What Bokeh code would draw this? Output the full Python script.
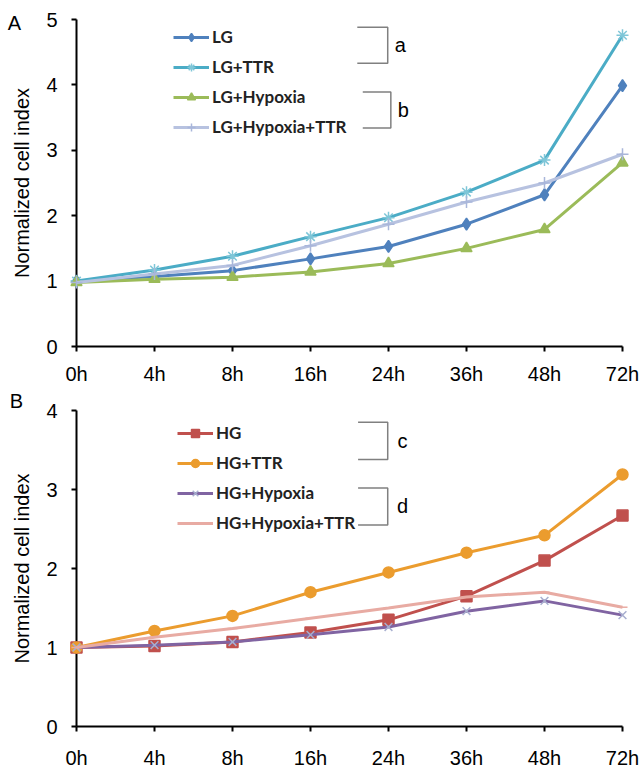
from bokeh.plotting import figure
from bokeh.layouts import column
from bokeh.models import FixedTicker, Legend, LegendItem, Label
from bokeh.core.properties import value
from bokeh.embed import file_html
from bokeh.resources import INLINE

# ---------------- data ----------------
TIMES = ["0h", "4h", "8h", "16h", "24h", "36h", "48h", "72h"]

LG = [1.00, 1.07, 1.16, 1.34, 1.53, 1.87, 2.32, 3.99]
LG_TTR = [1.00, 1.17, 1.38, 1.68, 1.97, 2.36, 2.85, 4.76]
LG_HYP = [0.98, 1.03, 1.06, 1.14, 1.27, 1.50, 1.79, 2.81]
LG_HYP_TTR = [0.98, 1.11, 1.24, 1.54, 1.87, 2.21, 2.50, 2.94]

HG = [1.00, 1.02, 1.07, 1.19, 1.35, 1.65, 2.10, 2.67]
HG_TTR = [1.00, 1.21, 1.40, 1.70, 1.95, 2.20, 2.42, 3.19]
HG_HYP = [1.00, 1.03, 1.07, 1.16, 1.26, 1.46, 1.59, 1.41]
HG_HYP_TTR = [1.00, 1.13, 1.24, 1.37, 1.50, 1.64, 1.70, 1.51]

NARROW = "Liberation Sans"
SANS = "Liberation Sans"
LEG_FONT = "Lato"

X = list(range(len(TIMES)))


def style_axes(p, ymax, xstand):
    p.xaxis.ticker = FixedTicker(ticks=X)
    p.xaxis.major_label_overrides = {i: t for i, t in enumerate(TIMES)}
    p.yaxis.ticker = FixedTicker(ticks=list(range(ymax + 1)))
    for ax in (p.xaxis, p.yaxis):
        ax.axis_line_width = 2
        ax.axis_line_color = "black"
        ax.major_tick_line_width = 2
        ax.major_tick_line_color = "black"
        ax.major_tick_in = 0
        ax.major_tick_out = 5
        ax.minor_tick_in = 0
        ax.minor_tick_out = 0
        ax.major_label_text_font = NARROW
        ax.major_label_text_font_size = "20px"
        ax.major_label_text_color = "black"
    p.xaxis.major_label_standoff = xstand
    p.yaxis.major_label_standoff = 14
    p.yaxis.axis_label = "Normalized cell index"
    p.yaxis.axis_label_text_font = SANS
    p.yaxis.axis_label_text_font_style = "normal"
    p.yaxis.axis_label_text_font_size = "20px"
    p.yaxis.axis_label_text_color = "black"
    p.yaxis.axis_label_standoff = 10
    p.xgrid.visible = False
    p.ygrid.visible = False
    p.outline_line_color = None


def make_panel(series, ymax, h, borders, leg_loc, brackets, letter, letter_pos,
               xstand):
    p = figure(width=640, height=h, x_range=(0, 7), y_range=(0, ymax),
               output_backend="svg", toolbar_location=None,
               min_border_left=borders[0], min_border_right=borders[1],
               min_border_top=borders[2], min_border_bottom=borders[3])
    style_axes(p, ymax, xstand)
    items = []
    for name, vals, color, marker, mcolor, msize in series:
        lr = p.line(X, vals, line_color=color, line_width=3, level="overlay")
        sr = p.scatter(X, vals, marker=marker, size=msize, fill_color=mcolor,
                       line_color=mcolor, line_width=1.5, level="overlay")
        items.append(LegendItem(label=name, renderers=[lr, sr]))
    leg = Legend(items=items, location=leg_loc, border_line_alpha=0,
                 background_fill_alpha=0, padding=0, margin=0, spacing=9,
                 label_height=20, glyph_height=20, glyph_width=36,
                 label_standoff=3, label_text_font=LEG_FONT,
                 label_text_font_style="bold", label_text_font_size="17px",
                 label_text_color="#222222")
    p.add_layout(leg)
    for (x0, x1, yt, yb, tag, tx) in brackets:
        p.line([x0, x1, x1, x0], [yt, yt, yb, yb], line_color="#808080",
               line_width=1.5, level="overlay")
        p.add_layout(Label(x=tx, y=(yt + yb) / 2, text=tag, text_align="center",
                           text_baseline="middle", text_font=SANS,
                           text_font_size="20px", text_color="black"))
    p.text(x=[letter_pos[0]], y=[letter_pos[1]], text=[letter],
           text_align="center", text_baseline="middle",
           text_font=value(NARROW), text_font_size="20px", text_color="black",
           level="overlay")
    return p


series_a = [
    ("LG", LG, "#4F81BD", "diamond", "#4F81BD", 12),
    ("LG+TTR", LG_TTR, "#4BACC6", "asterisk", "#7FC6D8", 12),
    ("LG+Hypoxia", LG_HYP, "#9BBB59", "triangle", "#9BBB59", 11),
    ("LG+Hypoxia+TTR", LG_HYP_TTR, "#B7C2E0", "cross", "#A9B6DA", 12),
]
series_b = [
    ("HG", HG, "#C0504D", "square", "#C0504D", 11),
    ("HG+TTR", HG_TTR, "#EB9C2E", "circle", "#EB9C2E", 11),
    ("HG+Hypoxia", HG_HYP, "#8064A2", "x", "#A7AECF", 11),
    ("HG+Hypoxia+TTR", HG_HYP_TTR, "#E8ABA3", "dash", "#E8ABA3", 10),
]

brackets_a = [(3.60, 3.99, 4.88, 4.33, "a", 4.15),
              (3.67, 4.03, 3.89, 3.34, "b", 4.19)]
brackets_b = [(3.61, 3.99, 3.85, 3.38, "c", 4.18),
              (3.61, 3.99, 3.02, 2.55, "d", 4.18)]

pa = make_panel(series_a, 5, 387, (76, 18, 19, 39), (97, 209), brackets_a,
                "A", (-0.795, 4.94), 11)
pb = make_panel(series_b, 4, 384, (75, 13, 23, 43), (101, 193), brackets_b,
                "B", (-0.77, 4.125), 15)

layout = column(pa, pb, spacing=0)
open("out.html", "w").write(file_html(layout, INLINE))
